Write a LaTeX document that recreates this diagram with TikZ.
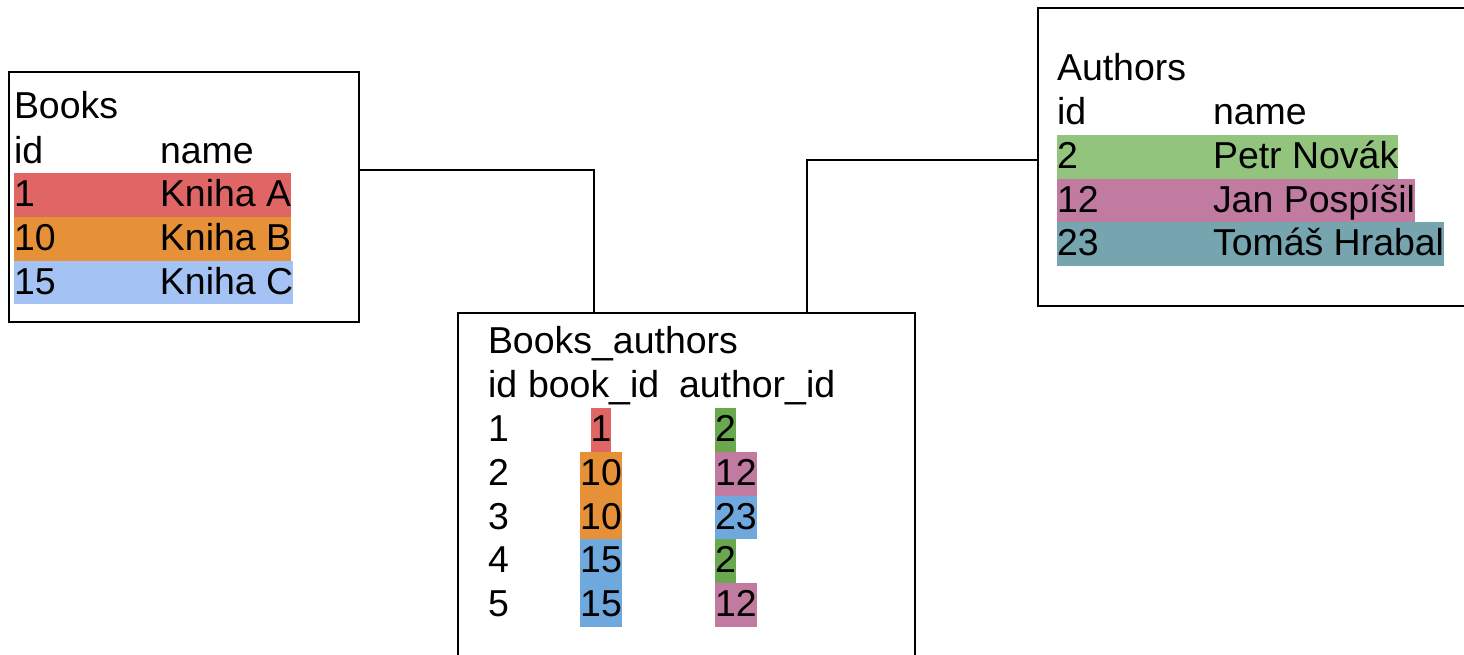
\documentclass[tikz,border=0pt]{standalone}
\usepackage{fontspec}
\setmainfont{Liberation Sans}

\definecolor{bookred}{HTML}{E06666}
\definecolor{bookorange}{HTML}{E69138}
\definecolor{booklightblue}{HTML}{A4C2F4}
\definecolor{bookblue}{HTML}{6FA8DC}
\definecolor{authgreen}{HTML}{93C47D}
\definecolor{authdarkgreen}{HTML}{6AA84F}
\definecolor{authpink}{HTML}{C27BA0}
\definecolor{authteal}{HTML}{76A5AF}

\begin{document}
\begin{tikzpicture}[
    x=0.75pt, y=-0.75pt,
    every node/.style={font=\fontsize{28.1}{33}\selectfont, inner sep=0pt, outer sep=0pt},
    tablebox/.style={rectangle, draw, line width=1.1pt},
    cell/.style={anchor=base west},
    hl/.style={cell, fill=#1, text height=25pt, text depth=7.5pt},
    hlmid/.style={hl=#1, anchor=base},
    link/.style={draw, line width=1.1pt}
]
\clip (0,0) rectangle (1464,654);

% Tables
\node[tablebox, minimum width=262.5pt, minimum height=187.5pt] (books) at (184,197) {};
\node[tablebox, minimum width=324pt, minimum height=223.5pt] (authors) at (1254,157) {};
\node[tablebox, minimum width=342.75pt, minimum height=305.25pt] (links) at (686.5,516.5) {};

% Books
\node[cell] (books-title) at (14,118.5) {Books};
\node[cell] (books-id) at (14,163) {id};
\node[cell] (books-name) at (160,163) {name};
\node[hl=bookred] (book1) at (14,206.5) {\makebox[109.5pt][l]{1}Kniha A};
\node[hl=bookorange] (book2) at (14,250.5) {\makebox[109.5pt][l]{10}Kniha B};
\node[hl=booklightblue] (book3) at (14,294) {\makebox[109.5pt][l]{15}Kniha C};

% Authors
\node[cell] (authors-title) at (1057,80) {Authors};
\node[cell] (authors-id) at (1057,124.5) {id};
\node[cell] (authors-name) at (1213,124.5) {name};
\node[hl=authgreen] (author1) at (1057,168.5) {\makebox[117pt][l]{2}Petr Novák};
\node[hl=authpink] (author2) at (1057,212) {\makebox[117pt][l]{12}Jan Pospíšil};
\node[hl=authteal] (author3) at (1057,255.5) {\makebox[117pt][l]{23}Tomáš Hrabal};

% Books_authors
\node[cell] (links-title) at (488,353.5) {Books\_authors};
\node[cell] (links-id) at (488,397.5) {id};
\node[cell] (links-book) at (528,397.5) {book\_id};
\node[cell] (links-author) at (679,397.5) {author\_id};

\node[cell] (row1) at (488,441.5) {1};
\node[cell] (row2) at (488,485.5) {2};
\node[cell] (row3) at (488,529) {3};
\node[cell] (row4) at (488,572.5) {4};
\node[cell] (row5) at (488,616.5) {5};

\node[hlmid=bookred] (row1-book) at (601,441.5) {1};
\node[hlmid=bookorange] (row2-book) at (601,485.5) {10};
\node[hlmid=bookorange] (row3-book) at (601,529) {10};
\node[hlmid=bookblue] (row4-book) at (601,572.5) {15};
\node[hlmid=bookblue] (row5-book) at (601,616.5) {15};

\node[hl=authdarkgreen] (row1-author) at (715,441.5) {2};
\node[hl=authpink] (row2-author) at (715,485.5) {12};
\node[hl=bookblue] (row3-author) at (715,529) {23};
\node[hl=authdarkgreen] (row4-author) at (715,572.5) {2};
\node[hl=authpink] (row5-author) at (715,616.5) {12};

% Connections
\draw[link] ([yshift=20.25pt]books.east) -| ([xshift=-69.375pt]links.north);
\draw[link] ([yshift=-2.25pt]authors.west) -| ([xshift=90.375pt]links.north);

\end{tikzpicture}
\end{document}
